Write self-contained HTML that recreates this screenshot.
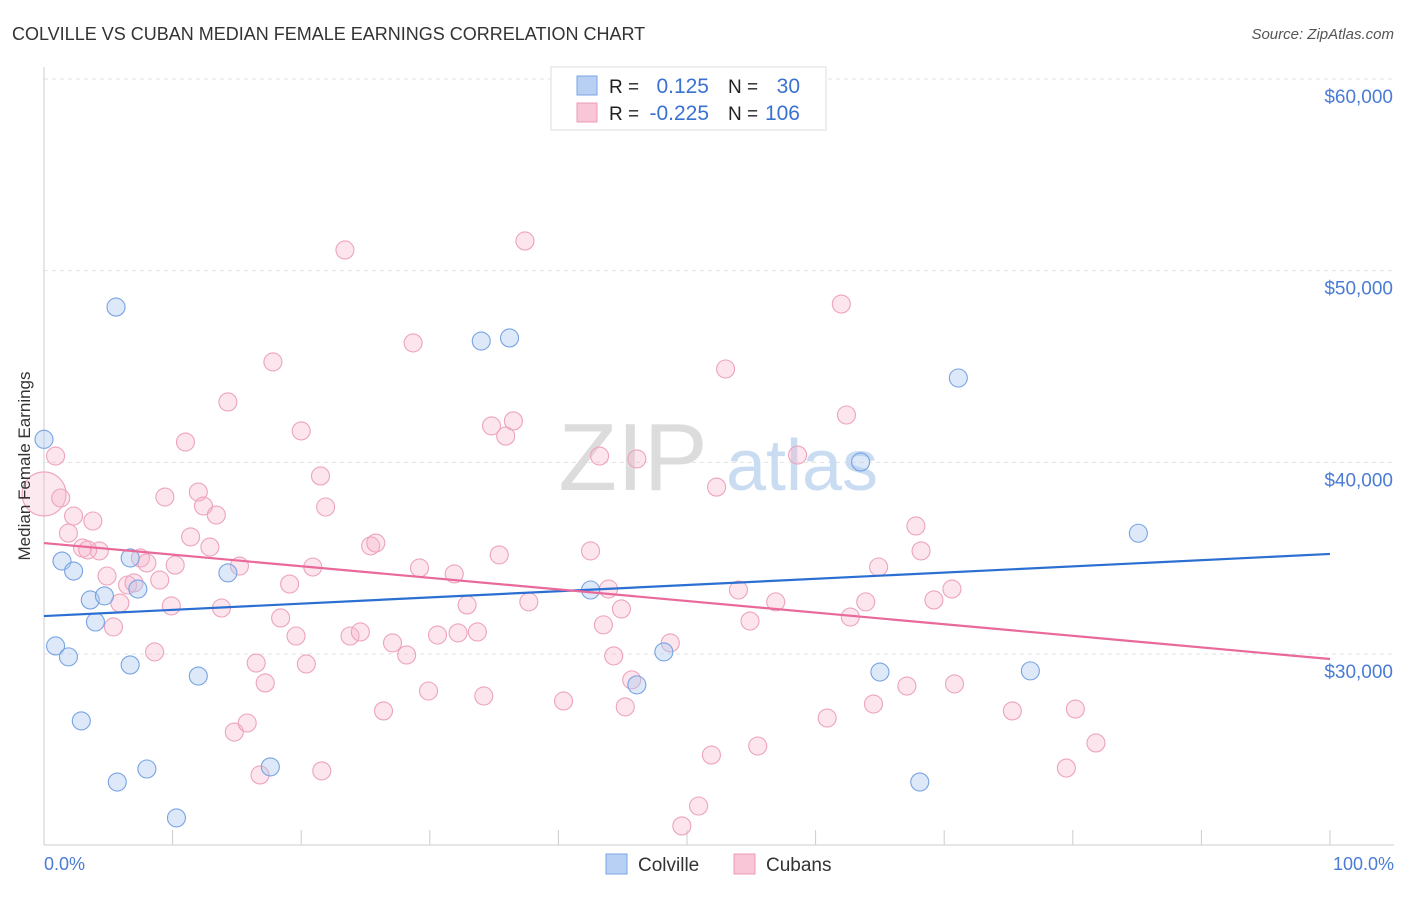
<!DOCTYPE html>
<html><head><meta charset="utf-8"><style>
body{margin:0;background:#fff;font-family:"Liberation Sans",sans-serif;}
svg text{font-family:"Liberation Sans",sans-serif;}
</style></head><body>
<svg id="chart" width="1406" height="892" xmlns="http://www.w3.org/2000/svg">
<text x="12" y="40" font-size="18" fill="#333">COLVILLE VS CUBAN MEDIAN FEMALE EARNINGS CORRELATION CHART</text>
<text x="1394" y="39" font-size="15" fill="#555" font-style="italic" text-anchor="end">Source: ZipAtlas.com</text>
<g id="grid"></g>
<g><text x="633" y="490" font-size="96" font-family="Liberation Serif" fill="#dcdcdc" text-anchor="middle">ZIP</text><text x="802" y="490" font-size="72" fill="#c9dcf2" text-anchor="middle">atlas</text></g>
<g id="axes"></g>
<g id="pts"></g>
<g id="lines"></g>
<text x="20" y="456" font-size="17" fill="#333" transform="rotate(-90 30 456)" text-anchor="middle">Median Female Earnings</text>
<text x="44" y="870" font-size="18" fill="#4a7cd4">0.0%</text>
<text x="1394" y="870" font-size="18" fill="#4a7cd4" text-anchor="end">100.0%</text>
<g>
<rect x="551" y="67" width="275" height="63" fill="#fff" stroke="#ddd"/>
<rect x="577" y="76" width="20" height="19" fill="#b8d0f3" stroke="#7aa5e6"/>
<rect x="577" y="103" width="20" height="19" fill="#f8c6d6" stroke="#ec9bb8"/>
<text x="609" y="93" font-size="19" fill="#222">R =</text><text x="709" y="93" font-size="21" fill="#3a72d2" text-anchor="end">0.125</text>
<text x="728" y="93" font-size="19" fill="#222">N =</text><text x="800" y="93" font-size="21" fill="#3a72d2" text-anchor="end">30</text>
<text x="609" y="120" font-size="19" fill="#222">R =</text><text x="709" y="120" font-size="21" fill="#3a72d2" text-anchor="end">-0.225</text>
<text x="728" y="120" font-size="19" fill="#222">N =</text><text x="800" y="120" font-size="21" fill="#3a72d2" text-anchor="end">106</text>
</g>
<g>
<rect x="606" y="854" width="21" height="20" fill="#b8d0f3" stroke="#7aa5e6"/>
<text x="638" y="871" font-size="19" fill="#333">Colville</text>
<rect x="734" y="854" width="21" height="20" fill="#f8c6d6" stroke="#ec9bb8"/>
<text x="766" y="871" font-size="19" fill="#333">Cubans</text>
</g>
</svg>
<script>
const yTicks=[30000,40000,50000,60000];
const yTickLabels=["$30,000","$40,000","$50,000","$60,000"];
const blueX=[0,5.6,34.0,36.2,71.1,63.5,85.1,1.4,2.3,6.7,14.3,3.6,4.7,7.3,4.0,0.9,1.9,6.7,12.0,2.9,5.7,8.0,17.6,10.3,42.5,48.2,46.1,65.0,76.7,68.1];
const blueY=[41200,48100,46330,46490,44400,40020,36300,34850,34330,35010,34230,32820,33030,33390,31670,30420,29850,29430,28850,26510,23320,24000,24110,21450,33340,30110,28390,29060,29120,23320];
const pinkX=[0,0.9,1.3,2.3,3.8,1.9,3.0,4.3,3.4,4.9,5.9,5.4,6.5,7.0,7.5,8.0,9.0,8.6,10.2,9.9,9.4,11.0,11.4,12.0,12.4,12.9,13.4,13.8,14.3,15.2,14.8,15.8,16.5,16.8,17.2,17.8,18.4,19.1,19.6,20.0,20.4,20.9,21.5,21.9,21.6,23.4,23.8,24.6,25.4,25.8,26.4,27.1,28.2,28.7,29.2,29.9,30.6,31.9,32.2,32.9,33.7,34.2,34.8,35.4,35.9,36.5,37.4,37.7,40.4,42.5,43.2,43.5,44.3,44.9,45.2,45.7,46.1,43.9,48.7,49.6,50.9,51.9,52.3,53.0,54.0,54.9,55.5,56.9,58.6,60.9,62.0,62.4,62.7,63.9,64.5,64.9,67.1,67.8,68.2,69.2,70.6,70.8,75.3,80.2,79.5,81.8];
const pinkY=[38350,40330,38140,37200,36940,36310,35530,35380,35430,34070,32660,31410,33600,33710,35010,34750,33860,30110,34640,32510,38190,41060,36110,38450,37720,35580,37250,32400,43150,34590,25930,26400,29530,23690,28490,45240,31880,33650,30940,41640,29480,34540,39290,37670,23900,51080,30940,31150,35640,35790,27030,30580,29950,46230,34490,28070,30990,34180,31100,32560,31150,27810,41900,35170,41370,42160,51550,32720,27550,35380,40330,31520,29900,32350,27240,28650,40180,33390,30580,21030,22070,24730,38710,44870,33340,31720,25200,32720,40380,26660,48260,42470,31930,32720,27390,34540,28330,36680,35380,32820,33390,28440,27030,27130,24050,25360];
const blueTrend=[31980,35220];
const pinkTrend=[35790,29740];
const NS="http://www.w3.org/2000/svg";
const X=p=>44+p*12.86;
const Y=v=>79+(60000-v)*0.019167;
function mk(t,a,parent){const e=document.createElementNS(NS,t);for(const k in a)e.setAttribute(k,a[k]);document.getElementById(parent).appendChild(e);return e;}
yTicks.forEach((v,i)=>{
 const l=mk('line',{x1:44,x2:1394,y1:Y(v),y2:Y(v),stroke:'#e2e2e2','stroke-dasharray':'4,4'},'grid');
 
 
 const t=mk('text',{x:1393,y:Y(v)+24,'font-size':19,fill:'#4a7cd4','text-anchor':'end'},'grid');
 t.textContent=yTickLabels[i];
 
 
});
mk('line',{x1:44,x2:44,y1:67,y2:845,stroke:'#ccc'},'axes');
mk('line',{x1:44,x2:1394,y1:845,y2:845,stroke:'#ccc'},'axes');
for(let i=0;i<=10;i++){const t=mk('line',{x1:X(i*10),x2:X(i*10),y1:830,y2:845,stroke:'#ccc'},'axes');
 
 }
pinkX.forEach((x,i)=>{const c=mk('circle',{cx:X(x),cy:Y(pinkY[i]),r:i===0?22:9,fill:i===0?'rgba(246,180,202,0.3)':'rgba(246,180,202,0.35)',stroke:'#eda3be','stroke-width':1.1},'pts');
 
 });
blueX.forEach((x,i)=>{const c=mk('circle',{cx:X(x),cy:Y(blueY[i]),r:9,fill:'rgba(170,199,240,0.4)',stroke:'#78a3e2','stroke-width':1.1},'pts');
 
 });
const bl=mk('line',{x1:X(0),x2:X(100),y1:Y(blueTrend[0]),y2:Y(blueTrend[1]),stroke:'#2a6fd1','stroke-width':2.2},'lines');


const pl=mk('line',{x1:X(0),x2:X(100),y1:Y(pinkTrend[0]),y2:Y(pinkTrend[1]),stroke:'#e8699a','stroke-width':2.2},'lines');


</script>
</body></html>
